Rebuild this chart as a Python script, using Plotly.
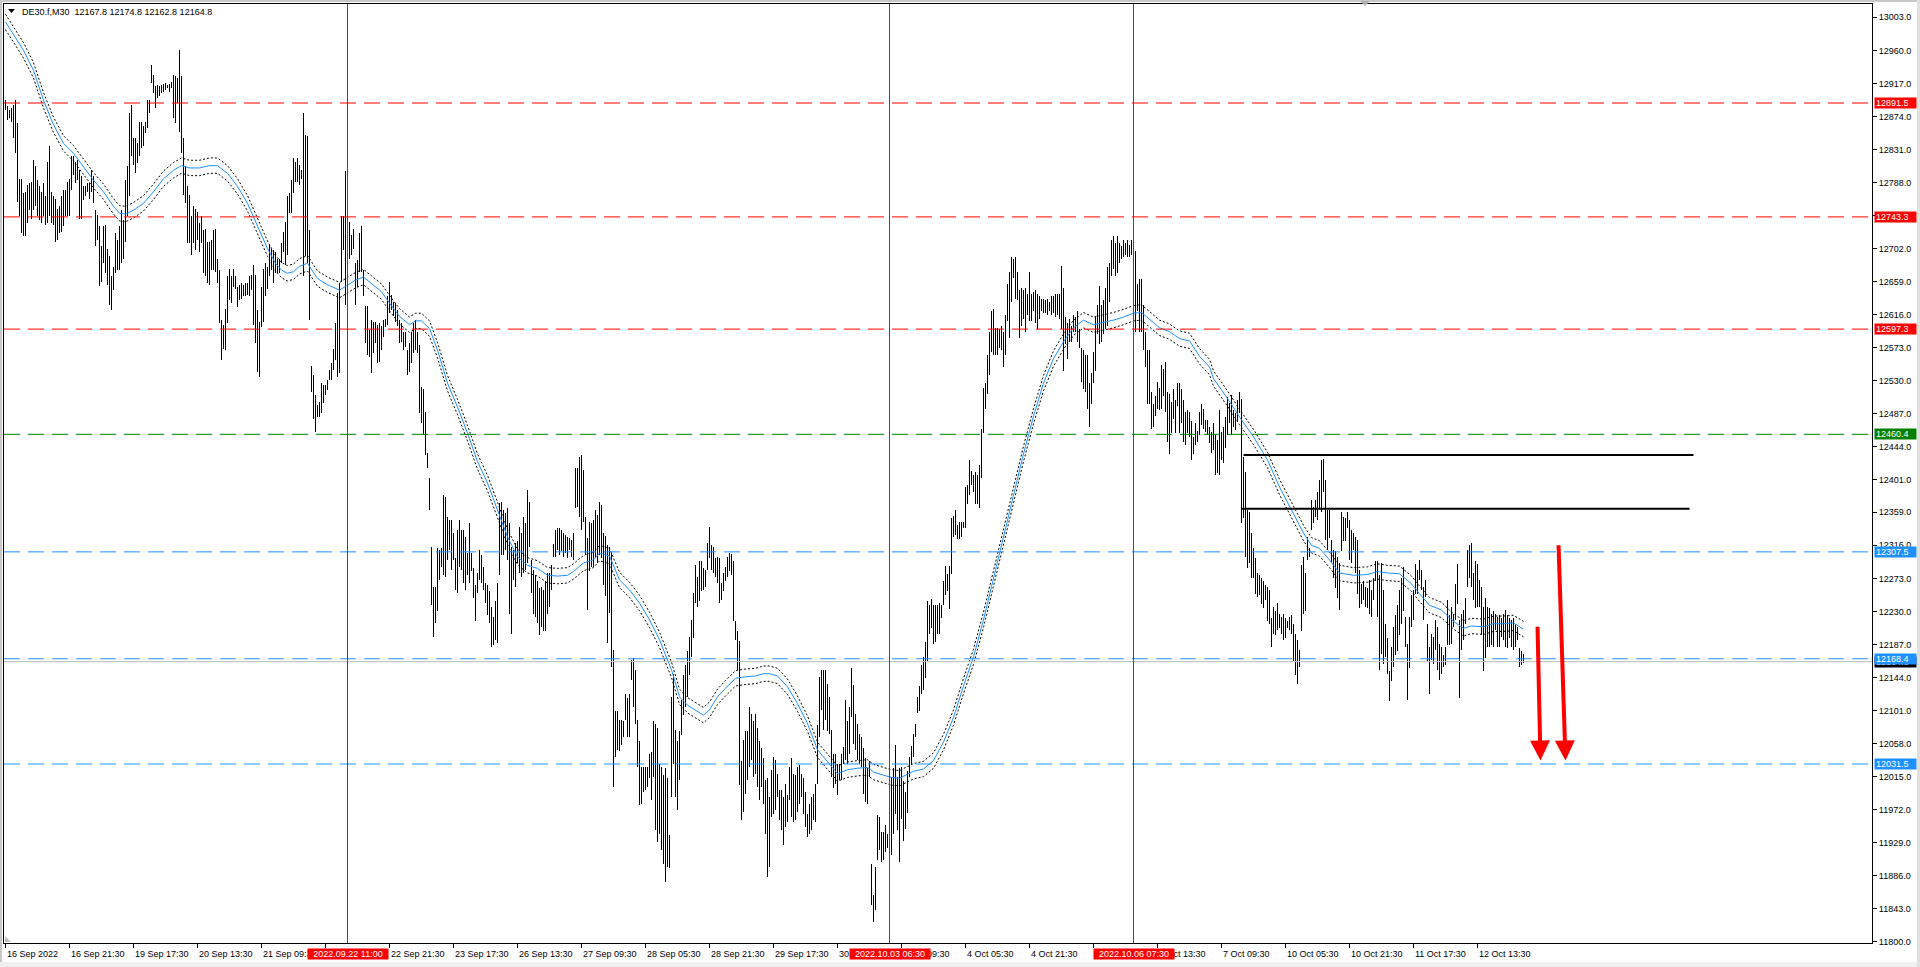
import plotly.graph_objects as go

# ---------------- DATA ----------------
SYMBOL = "DE30.f,M30"
LAST_OHLC = [12167.8, 12174.8, 12162.8, 12164.8]

HIGH = [
    12895,12887,12882,12885,12889,12895,12865,12793,12793,12774,
    12776,12785,12787,12789,12817,12809,12791,12783,12776,12787,
    12770,12815,12835,12776,12770,12767,12754,12757,12770,12778,
    12778,12789,12793,12822,12822,12815,12817,12804,12796,12783,
    12783,12787,12787,12804,12796,12752,12746,12731,12705,12731,
    12733,12702,12692,12666,12678,12722,12713,12731,12752,12739,
    12791,12809,12878,12889,12846,12846,12839,12867,12867,12861,
    12867,12895,12895,12941,12928,12913,12915,12914,12915,12916,
    12917,12915,12916,12919,12928,12926,12924,12960,12926,12846,
    12809,12783,12772,12744,12757,12754,12750,12735,12744,12726,
    12728,12711,12711,12713,12726,12728,12689,12674,12609,12603,
    12624,12666,12676,12666,12676,12666,12652,12655,12657,12655,
    12657,12657,12666,12668,12681,12668,12622,12607,12652,12676,
    12683,12678,12707,12702,12700,12698,12689,12689,12709,12724,
    12737,12770,12774,12791,12820,12815,12820,12811,12804,12878,
    12850,12848,12726,12549,12538,12512,12499,12503,12527,12525,
    12525,12531,12544,12553,12572,12605,12644,12657,12744,12744,
    12803,12744,12737,12720,12728,12683,12687,12722,12731,12674,
    12627,12627,12596,12609,12607,12607,12603,12605,12601,12609,
    12611,12640,12659,12642,12633,12631,12622,12609,12605,12594,
    12594,12570,12579,12594,12605,12609,12594,12577,12522,12520,
    12490,12436,12403,12314,12262,12262,12312,12310,12312,12381,
    12379,12353,12349,12349,12332,12299,12336,12349,12336,12336,
    12327,12306,12345,12306,12286,12264,12280,12310,12303,12288,
    12267,12264,12256,12236,12223,12243,12267,12371,12373,12362,
    12358,12364,12345,12314,12310,12319,12321,12340,12332,12353,
    12345,12388,12373,12297,12284,12277,12269,12260,12262,12258,
    12269,12280,12280,12290,12318,12336,12338,12338,12336,12332,
    12329,12327,12325,12323,12332,12416,12416,12431,12433,12414,
    12353,12325,12347,12345,12349,12362,12355,12373,12368,12332,
    12328,12316,12314,12306,12180,12100,12100,12089,12089,12087,
    12123,12117,12123,12167,12169,12154,12089,12061,12028,12028,
    12028,12028,12045,12047,12087,12084,12078,12032,12028,12017,
    12026,12013,11939,12119,12149,12076,12061,12074,12115,12147,
    12160,12178,12197,12219,12254,12290,12275,12295,12295,12286,
    12284,12319,12340,12316,12314,12299,12301,12299,12267,12280,
    12288,12301,12306,12305,12295,12217,12204,12191,12035,12063,
    12074,12074,12106,12097,12087,12097,12078,12061,12052,12039,
    12011,12013,11989,12024,12041,12037,12019,11998,11998,11989,
    12006,11991,12028,12039,12019,12017,12028,12030,12019,12013,
    11995,11967,11980,11989,11993,12006,12082,12145,12154,12154,
    12154,12136,12119,12076,12045,12045,12032,12032,12045,12054,
    12115,12087,12106,12156,12134,12097,12084,12071,12067,12052,
    12039,12026,12035,11902,11861,11898,11965,11963,11943,11943,
    11952,11941,12015,12015,12026,12056,12015,12026,12028,12009,
    11995,12022,12040,12055,12071,12084,12119,12133,12160,12171,
    12190,12244,12238,12246,12238,12238,12238,12241,12238,12270,
    12289,12279,12289,12351,12354,12362,12343,12346,12346,12346,
    12392,12395,12427,12413,12408,12411,12408,12421,12467,12521,
    12527,12564,12594,12621,12624,12599,12599,12597,12602,12594,
    12616,12656,12672,12691,12689,12691,12672,12648,12651,12648,
    12651,12643,12672,12643,12645,12648,12643,12640,12637,12637,
    12635,12637,12632,12640,12640,12643,12643,12643,12680,12651,
    12613,12605,12610,12602,12616,12613,12621,12597,12573,12570,
    12564,12564,12527,12540,12567,12613,12629,12653,12629,12635,
    12651,12678,12683,12713,12718,12710,12718,12710,12705,12713,
    12710,12713,12707,12713,12699,12699,12656,12662,12662,12629,
    12594,12570,12570,12516,12500,12510,12529,12521,12551,12546,
    12554,12516,12513,12502,12519,12505,12527,12527,12519,12505,
    12489,12492,12489,12478,12457,12475,12465,12489,12500,12494,
    12479,12479,12470,12464,12475,12460,12453,12492,12464,12470,
    12483,12509,12501,12512,12492,12488,12505,12516,12507,12431,
    12412,12362,12360,12332,12312,12299,12280,12277,12273,12269,
    12264,12262,12258,12221,12236,12230,12241,12227,12223,12227,
    12221,12217,12223,12225,12214,12201,12193,12180,12290,12301,
    12280,12327,12312,12375,12366,12375,12386,12401,12427,12428,
    12401,12362,12362,12323,12310,12308,12301,12293,12360,12353,
    12351,12360,12349,12336,12332,12327,12323,12284,12266,12269,
    12262,12260,12271,12258,12273,12295,12295,12277,12293,12258,
    12214,12195,12152,12184,12210,12225,12238,12258,12273,12288,
    12223,12188,12223,12251,12258,12292,12284,12297,12284,12262,
    12271,12214,12184,12201,12197,12219,12210,12188,12184,12173,
    12184,12245,12225,12236,12227,12266,12292,12219,12227,12232,
    12247,12310,12316,12319,12280,12295,12292,12271,12262,12236,
    12247,12236,12234,12227,12230,12227,12223,12225,12221,12227,
    12232,12225,12221,12219,12221,12214,12210,12182,12178,12174.8,
]

LOW = [
    12882,12869,12872,12867,12846,12826,12763,12744,12722,12718,
    12718,12735,12752,12741,12752,12757,12744,12739,12735,12744,
    12733,12735,12744,12735,12733,12711,12713,12722,12724,12731,
    12744,12744,12744,12778,12798,12787,12791,12741,12741,12765,
    12770,12776,12767,12776,12761,12705,12713,12653,12659,12683,
    12670,12655,12629,12622,12648,12670,12674,12674,12683,12689,
    12711,12744,12770,12822,12811,12800,12813,12822,12833,12835,
    12852,12859,12878,12917,12904,12885,12898,12901,12904,12906,
    12908,12911,12906,12911,12872,12865,12891,12854,12826,12772,
    12761,12709,12709,12694,12709,12700,12713,12698,12709,12670,
    12666,12657,12655,12674,12674,12672,12657,12605,12557,12572,
    12570,12605,12635,12631,12652,12650,12626,12635,12637,12640,
    12640,12642,12640,12648,12603,12579,12542,12535,12600,12607,
    12640,12650,12666,12674,12657,12670,12670,12670,12683,12698,
    12681,12694,12748,12748,12774,12789,12789,12785,12793,12666,
    12692,12683,12609,12516,12481,12464,12483,12483,12488,12501,
    12512,12518,12531,12531,12544,12557,12535,12540,12659,12700,
    12629,12705,12689,12694,12702,12629,12652,12672,12672,12640,
    12579,12564,12561,12540,12566,12579,12553,12555,12570,12587,
    12600,12603,12618,12622,12614,12607,12601,12579,12580,12570,
    12574,12538,12542,12553,12566,12570,12566,12488,12475,12460,
    12434,12416,12362,12238,12197,12215,12230,12271,12288,12277,
    12275,12297,12310,12284,12297,12258,12254,12288,12284,12267,
    12258,12277,12267,12282,12247,12217,12254,12271,12267,12258,
    12241,12225,12215,12184,12186,12193,12189,12277,12303,12303,
    12310,12297,12227,12201,12271,12262,12293,12280,12275,12280,
    12284,12293,12314,12254,12227,12223,12215,12199,12210,12204,
    12204,12227,12236,12258,12301,12301,12310,12303,12308,12301,
    12306,12299,12310,12301,12297,12364,12366,12353,12336,12347,
    12303,12232,12282,12288,12288,12301,12293,12303,12300,12264,
    12250,12189,12228,12158,12002,12041,12050,12048,12056,12067,
    12089,12067,12067,12141,12106,12084,12028,11978,11980,11995,
    11998,12002,12013,11985,12015,11946,11930,11941,11920,11902,
    11878,11898,11896,11989,12032,11989,11972,12011,12069,12095,
    12106,12119,12147,12171,12195,12241,12236,12243,12256,12258,
    12262,12284,12299,12284,12280,12275,12267,12241,12245,12256,
    12269,12275,12282,12277,12217,12193,12154,12004,11959,11969,
    11993,12011,12028,12037,12015,12019,12002,11985,12002,11980,
    11941,11885,11898,11963,11967,11972,11989,11959,11946,11926,
    11950,11956,11985,11963,11956,11959,11969,11980,11989,11967,
    11950,11937,11941,11946,11959,11956,12006,12067,12102,12076,
    12089,12074,12071,12015,12000,12006,11991,12011,12011,12032,
    12037,12032,12045,12093,12058,12050,12037,12032,12028,11993,
    11982,11980,12015,11848,11826,11841,11907,11920,11904,11907,
    11917,11922,11915,11913,11941,11967,11946,11904,11960,11931,
    11947,11968,12015,12030,12041,12066,12098,12101,12122,12128,
    12144,12165,12200,12208,12187,12190,12200,12200,12222,12238,
    12252,12257,12233,12279,12327,12330,12324,12324,12327,12338,
    12338,12370,12381,12395,12386,12370,12370,12365,12403,12462,
    12494,12513,12537,12567,12564,12564,12564,12573,12570,12548,
    12564,12608,12586,12632,12664,12637,12635,12586,12602,12610,
    12594,12616,12608,12608,12621,12605,12597,12610,12621,12618,
    12618,12616,12621,12616,12618,12613,12616,12610,12597,12543,
    12578,12559,12581,12581,12594,12594,12581,12573,12529,12519,
    12516,12494,12470,12500,12527,12543,12591,12578,12581,12591,
    12597,12602,12632,12667,12675,12667,12670,12683,12689,12691,
    12694,12691,12691,12694,12656,12594,12621,12594,12594,12570,
    12548,12500,12500,12467,12470,12484,12494,12492,12494,12510,
    12489,12451,12435,12462,12481,12462,12497,12462,12475,12451,
    12446,12462,12457,12427,12435,12446,12451,12459,12473,12468,
    12464,12460,12449,12436,12440,12407,12410,12407,12427,12423,
    12442,12460,12475,12460,12470,12466,12477,12488,12345,12351,
    12301,12286,12293,12273,12273,12253,12249,12251,12240,12234,
    12245,12217,12214,12184,12201,12199,12206,12208,12201,12193,
    12195,12208,12206,12201,12165,12147,12136,12158,12204,12227,
    12230,12297,12301,12336,12345,12353,12349,12364,12360,12386,
    12323,12310,12325,12293,12273,12260,12247,12232,12308,12321,
    12321,12338,12297,12293,12310,12280,12253,12234,12240,12245,
    12236,12234,12227,12223,12245,12269,12223,12154,12175,12162,
    12171,12149,12113,12139,12158,12173,12178,12199,12214,12230,
    12184,12115,12156,12210,12219,12253,12253,12271,12258,12219,
    12249,12165,12123,12167,12162,12180,12154,12141,12149,12158,
    12160,12186,12186,12188,12210,12219,12240,12117,12180,12193,
    12214,12262,12273,12262,12245,12234,12236,12236,12201,12152,
    12169,12184,12184,12186,12184,12206,12184,12184,12197,12193,
    12184,12182,12195,12184,12180,12184,12193,12158,12160,12162.8,
]

# smoothed moving average read at sampled bars
MA_BAR = [0,4,9,14,19,24,29,34,39,44,49,54,57,60,64,69,74,79,84,88,92,97,102,106,111,116,121,126,131,135,
          138,141,144,147,151,156,161,167,171,175,179,183,188,192,197,202,205,208,212,216,221,226,231,236,
          241,246,251,256,261,266,271,276,281,284,289,294,297,302,307,312,317,322,327,333,337,341,346,349,
          352,356,360,365,370,375,379,382,386,391,396,401,406,411,416,421,426,431,434,439,443,447,454,459,
          464,469,474,479,484,489,494,499,504,509,514,519,524,529,534,539,544,549,554,559,564,568,572,577,
          582,587,592,597,602,604,611,617,624,631,637,644,649,653,657,662,667,674,681,686,691,697,703,707,
          712,718,723,729,733,739,744,749,754,759]
MA_VAL = [12997,12980,12960,12934,12895,12863,12839,12826,12809,12791,12776,12757,12748,12747,12752,12761,
          12776,12793,12804,12810,12807,12807,12810,12810,12800,12783,12761,12731,12702,12683,12674,12670,
          12672,12679,12683,12663,12655,12648,12655,12661,12665,12657,12646,12631,12614,12603,12608,12608,
          12598,12570,12527,12496,12462,12425,12397,12362,12327,12301,12290,12286,12277,12276,12277,12282,
          12293,12297,12306,12302,12271,12258,12241,12219,12193,12154,12119,12108,12100,12095,12102,12119,
          12130,12143,12145,12146,12149,12149,12146,12132,12110,12084,12050,12034,12019,12024,12026,12027,
          12021,12017,12014,12013,12022,12025,12036,12060,12092,12133,12171,12219,12273,12327,12381,12435,
          12484,12527,12559,12581,12599,12609,12603,12606,12609,12613,12618,12619,12610,12599,12594,12585,
          12582,12562,12548,12533,12507,12483,12457,12427,12392,12358,12332,12316,12312,12297,12280,12277,
          12278,12282,12280,12279,12266,12253,12238,12232,12219,12208,12211,12210,12214,12214,12215,12207]
ENVELOPE_DEV = 10.0

X_TICK_BARS = [0,32,64,96,128,160,192,224,256,288,320,352,384,416,448,480,512,544,576,608,640,672,704,736]
X_TICK_TEXT = ["16 Sep 2022","16 Sep 21:30","19 Sep 17:30","20 Sep 13:30","21 Sep 09:30","22 Sep 05:30",
               "22 Sep 21:30","23 Sep 17:30","26 Sep 13:30","27 Sep 09:30","28 Sep 05:30","28 Sep 21:30",
               "29 Sep 17:30","30 Sep 13:30","3 Oct 09:30","4 Oct 05:30","4 Oct 21:30","5 Oct 17:30",
               "6 Oct 13:30","7 Oct 09:30","10 Oct 05:30","10 Oct 21:30","11 Oct 17:30","12 Oct 13:30"]
Y_TICKS = [11800,11843,11886,11929,11972,12015,12058,12101,12144,12187,12230,12273,12316,12359,12401,
           12444,12487,12530,12573,12616,12659,12702,12745,12788,12831,12874,12917,12960,13003]

LEVEL_PRICES = [12891.5, 12743.3, 12597.3, 12460.4, 12307.5, 12168.4, 12031.5]
LEVEL_COLORS = ["#ff0000", "#ff0000", "#ff0000", "#008000", "#1e90ff", "#1e90ff", "#1e90ff"]
BID_PRICE = 12164.8

VLINE_BARS = [171, 442, 564]
VLINE_TEXT = ["2022.09.22 11:00", "2022.10.03 06:30", "2022.10.06 07:30"]

RANGE_PRICES = [12433.5, 12363.7]
RANGE_START = [619, 618]
RANGE_END = [844, 842]

ARROW_FROM_BAR = [766, 776.5]
ARROW_FROM_PRICE = [12212, 12318]
ARROW_TO_BAR = [767.5, 780]
ARROW_TO_PRICE = [12036, 12036]

# ---------------- LAYOUT GEOMETRY ----------------
W_FIG, H_FIG = 1920, 967
ML, MR, MT, MB = 4, 48, 4, 24
PW, PH = W_FIG - ML - MR, H_FIG - MT - MB
X_RANGE = [-0.75, -0.75 + PW / 2.0]
Y_RANGE = [11798.6, 13020.3]
FONT = "Liberation Sans, Arial, sans-serif"
TAG_HALF_BARS = 20  # half width of the date tags, in bar units


def px_x(px):
    return (px - ML) / PW


def px_y(py):
    return 1 - (py - MT) / PH


n = len(HIGH)
bars_x = list(range(n))

fig = go.Figure()
fig.add_trace(go.Bar(
    x=bars_x, base=LOW, y=[h - l for h, l in zip(HIGH, LOW)], width=0.5,
    marker=dict(color="black", line=dict(width=0)), hoverinfo="skip"))

fig.add_trace(go.Scatter(x=MA_BAR, y=[v + ENVELOPE_DEV for v in MA_VAL], mode="lines",
                         line=dict(color="black", width=1, dash="2px,2px"), hoverinfo="skip"))
fig.add_trace(go.Scatter(x=MA_BAR, y=[v - ENVELOPE_DEV for v in MA_VAL], mode="lines",
                         line=dict(color="black", width=1, dash="2px,2px"), hoverinfo="skip"))
fig.add_trace(go.Scatter(x=MA_BAR, y=MA_VAL, mode="lines",
                         line=dict(color="#1e90ff", width=1), hoverinfo="skip"))

shapes = []
# window chrome
shapes.append(dict(type="rect", xref="paper", yref="paper", x0=px_x(0), x1=px_x(2), y0=px_y(H_FIG), y1=px_y(0),
                   fillcolor="#c8c8c8", line=dict(width=0), layer="below"))
shapes.append(dict(type="rect", xref="paper", yref="paper", x0=px_x(0), x1=px_x(W_FIG), y0=px_y(2), y1=px_y(0),
                   fillcolor="#c8c8c8", line=dict(width=0), layer="below"))
shapes.append(dict(type="rect", xref="paper", yref="paper", x0=px_x(0), x1=px_x(W_FIG), y0=px_y(H_FIG), y1=px_y(962),
                   fillcolor="#f0f0f0", line=dict(width=0), layer="below"))
shapes.append(dict(type="rect", xref="paper", yref="paper", x0=px_x(1917), x1=px_x(W_FIG), y0=px_y(H_FIG), y1=px_y(0),
                   fillcolor="#e0e0e0", line=dict(width=0), layer="below"))
shapes.append(dict(type="path", xref="paper", yref="paper",
                   path=f"M {px_x(1360)},{px_y(1)} L {px_x(1370)},{px_y(1)} L {px_x(1365)},{px_y(6)} Z",
                   fillcolor="#b0b0b0", line=dict(width=0)))
shapes.append(dict(type="path", xref="paper", yref="paper",
                   path=f"M {px_x(5)},{px_y(942)} L {px_x(5)},{px_y(936)} L {px_x(11)},{px_y(942)} Z",
                   fillcolor="#c0c0c0", line=dict(width=0)))

# bid line
shapes.append(dict(type="line", xref="paper", yref="y", x0=0, x1=1, y0=BID_PRICE, y1=BID_PRICE,
                   line=dict(color="#c0c0c0", width=1)))
# horizontal levels
for p, c in zip(LEVEL_PRICES, LEVEL_COLORS):
    shapes.append(dict(type="line", xref="paper", yref="y", x0=0, x1=1, y0=p, y1=p,
                       line=dict(color=c, width=1, dash="16px,8px")))
# vertical red lines
for b in VLINE_BARS:
    shapes.append(dict(type="line", xref="x", yref="paper", x0=b, x1=b, y0=0, y1=1,
                       line=dict(color="#ff0000", width=1)))
# black range lines
for p, s, e in zip(RANGE_PRICES, RANGE_START, RANGE_END):
    shapes.append(dict(type="line", xref="x", yref="y", x0=s, x1=e, y0=p, y1=p,
                       line=dict(color="black", width=2)))
# header triangle
shapes.append(dict(type="path", xref="paper", yref="paper",
                   path=f"M {px_x(8)},{px_y(9)} L {px_x(15)},{px_y(9)} L {px_x(11.5)},{px_y(13)} Z",
                   fillcolor="black", line=dict(width=0)))

annotations = []
# header
annotations.append(dict(xref="paper", yref="paper", x=px_x(20), y=px_y(12), xanchor="left", yanchor="middle",
                        showarrow=False,
                        text=SYMBOL + "\u00a0\u00a0" + " ".join(f"{v:.1f}" for v in LAST_OHLC),
                        font=dict(family=FONT, size=9, color="black")))
# x labels (labels that sit completely under a date tag are not visible in the chart)
for b, t in zip(X_TICK_BARS, X_TICK_TEXT):
    if any(v - TAG_HALF_BARS <= b and b + 28 <= v + TAG_HALF_BARS for v in VLINE_BARS):
        continue
    annotations.append(dict(xref="x", yref="paper", x=b, y=px_y(954), xanchor="left", yanchor="middle",
                            xshift=-1, showarrow=False, text=t, font=dict(family=FONT, size=9, color="black")))
# vertical line date tags
for b, t in zip(VLINE_BARS, VLINE_TEXT):
    annotations.append(dict(xref="x", yref="paper", x=b, y=px_y(953.5), xanchor="center", yanchor="middle",
                            showarrow=False, text=t, bgcolor="#ff0000", width=78, height=8, borderpad=1,
                            font=dict(family=FONT, size=9, color="white")))
# price tags
annotations.append(dict(xref="paper", yref="y", x=px_x(1874), y=BID_PRICE, xanchor="left", yanchor="middle",
                        showarrow=False, text=f"{BID_PRICE:.1f}", bgcolor="black", width=39, height=8,
                        borderpad=1, align="left", font=dict(family=FONT, size=9, color="white")))
for p, c in zip(LEVEL_PRICES, LEVEL_COLORS):
    annotations.append(dict(xref="paper", yref="y", x=px_x(1874), y=p, xanchor="left", yanchor="middle",
                            showarrow=False, text=f"{p:.1f}", bgcolor=c, width=39, height=8, borderpad=1,
                            align="left", font=dict(family=FONT, size=9, color="white")))
# arrows
for fb, fp, tb, tp in zip(ARROW_FROM_BAR, ARROW_FROM_PRICE, ARROW_TO_BAR, ARROW_TO_PRICE):
    annotations.append(dict(xref="x", yref="y", x=tb, y=tp, axref="x", ayref="y", ax=fb, ay=fp, text="",
                            showarrow=True, arrowhead=2, arrowsize=1, arrowwidth=4, arrowcolor="#ff0000"))

fig.update_layout(
    width=W_FIG, height=H_FIG,
    margin=dict(l=ML, r=MR, t=MT, b=MB, pad=0),
    paper_bgcolor="white", plot_bgcolor="white",
    showlegend=False, bargap=0,
    shapes=shapes, annotations=annotations,
    xaxis=dict(range=X_RANGE, showgrid=False, zeroline=False, showline=True, linecolor="black", linewidth=1,
               mirror=True, ticks="outside", ticklen=4, tickcolor="black", tickvals=X_TICK_BARS,
               showticklabels=False, fixedrange=True),
    yaxis=dict(range=Y_RANGE, side="right", showgrid=False, zeroline=False, showline=True, linecolor="black",
               linewidth=1, mirror=True, ticks="outside", ticklen=4, tickcolor="black", tickvals=Y_TICKS,
               ticktext=[f"{v:.1f}" for v in Y_TICKS], tickfont=dict(family=FONT, size=9, color="black"),
               fixedrange=True),
)

fig.write_html("out.html", config={"displayModeBar": False},
               post_script="document.body.style.margin='0px';document.body.style.overflow='hidden';")
